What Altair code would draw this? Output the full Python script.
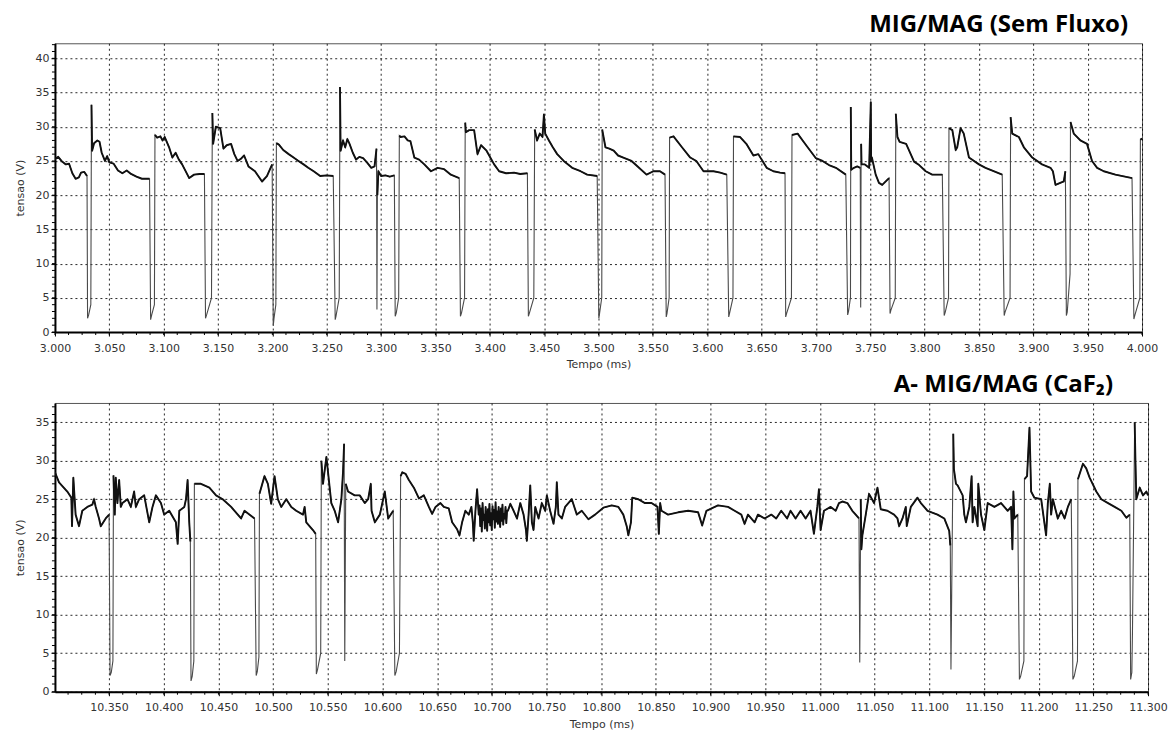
import altair as alt
import pandas as pd
import numpy as np

# ---------------- top panel: MIG/MAG (Sem Fluxo) ----------------
top_time = [
    3.000, 3.003, 3.006, 3.010, 3.013, 3.016, 3.019, 3.022, 3.024, 3.027, 3.0295,
    3.0300, 3.0310, 3.0330, 3.0336,
    3.0342, 3.036, 3.039, 3.041, 3.043, 3.046, 3.048, 3.050, 3.054, 3.058, 3.062, 3.066, 3.070, 3.075, 3.080, 3.087,
    3.0880, 3.0890, 3.0915, 3.0920,
    3.094, 3.097, 3.099, 3.101, 3.105, 3.108, 3.111, 3.114, 3.117, 3.1235, 3.128, 3.133, 3.1375,
    3.1385, 3.1395, 3.1440, 3.1448,
    3.1455, 3.148, 3.152, 3.155, 3.158, 3.162, 3.165, 3.168, 3.171, 3.174, 3.178, 3.184, 3.1905, 3.195, 3.1998,
    3.2008, 3.2015, 3.2032, 3.2037,
    3.206, 3.210, 3.215, 3.2195, 3.224, 3.2287, 3.233, 3.238, 3.244, 3.250, 3.256,
    3.2578, 3.2585, 3.2615, 3.2622,
    3.2628, 3.265, 3.267, 3.269, 3.271, 3.274, 3.277, 3.280, 3.2835, 3.287, 3.291, 3.294,
    3.2958, 3.2962, 3.2966, 3.2975, 3.300, 3.304, 3.308, 3.3122,
    3.3130, 3.3140, 3.3162, 3.3168,
    3.318, 3.3215, 3.3245, 3.327, 3.3306, 3.335, 3.3398, 3.3459, 3.352, 3.358, 3.3642, 3.3719,
    3.3730, 3.3740, 3.3768, 3.3774,
    3.378, 3.381, 3.3856, 3.3887, 3.392, 3.397, 3.404, 3.4086, 3.415, 3.4223, 3.428, 3.4346,
    3.4355, 3.4365, 3.4405, 3.4413,
    3.4435, 3.446, 3.4485, 3.4498, 3.451, 3.4544, 3.458, 3.462, 3.468, 3.4758, 3.4835, 3.4896, 3.4988,
    3.5003, 3.5008, 3.5030, 3.5034,
    3.5064, 3.510, 3.514, 3.518, 3.5228, 3.5304, 3.536, 3.5442, 3.5505, 3.5566, 3.5612,
    3.5623, 3.5630, 3.5650, 3.5654,
    3.569, 3.5768, 3.5844, 3.590, 3.5966, 3.6058, 3.612, 3.618,
    3.6198, 3.6205, 3.6237, 3.6242,
    3.6303, 3.636, 3.6425, 3.647, 3.6547, 3.6609, 3.6670, 3.6716,
    3.6722, 3.6730, 3.6775, 3.6780,
    3.6832, 3.6878, 3.6924, 3.700, 3.7061, 3.712, 3.7184, 3.7275,
    3.7292, 3.7300, 3.7318, 3.7321,
    3.7325, 3.735, 3.738, 3.7408, 3.7412, 3.7416, 3.742, 3.745, 3.749, 3.7505, 3.7508, 3.7515, 3.755, 3.758, 3.761, 3.7673,
    3.7682, 3.7690, 3.7730, 3.7735,
    3.775, 3.777, 3.783, 3.7903, 3.795, 3.801, 3.807, 3.8163,
    3.8180, 3.8190, 3.8220, 3.8224,
    3.8255, 3.8286, 3.8300, 3.8331, 3.836, 3.8408, 3.850, 3.856, 3.8635, 3.8714,
    3.8732, 3.8740, 3.8786, 3.8791,
    3.8806, 3.8867, 3.8913, 3.899, 3.908, 3.9158, 3.918, 3.9204, 3.928, 3.9295,
    3.9304, 3.9312, 3.9338, 3.9342,
    3.9372, 3.9433, 3.9494, 3.954, 3.9587, 3.9648, 3.9755, 3.9908,
    3.9925, 3.9935, 3.9980, 3.9985, 4.000,
]
top_volt = [
    25.3, 25.6, 25.0, 24.5, 24.6, 23.2, 22.4, 22.6, 23.3, 23.4, 22.8,
    2.0, 2.5, 4.0, 33.2,
    26.5, 27.6, 28.0, 27.8, 26.2, 25.0, 25.7, 24.8, 24.6, 23.6, 23.2, 23.6, 23.1, 22.7, 22.4, 22.4,
    1.8, 2.5, 4.0, 28.8,
    28.4, 28.6, 28.0, 28.5, 27.0, 25.5, 26.2, 25.2, 24.5, 22.5, 23.0, 23.1, 23.1,
    2.0, 2.5, 5.0, 32.0,
    27.5, 30.0, 29.8, 26.8, 27.3, 27.5, 26.0, 25.0, 25.3, 25.8, 24.2, 23.5, 22.0, 22.8, 24.5,
    0.9, 2.0, 4.0, 27.6,
    27.4, 26.6, 26.0, 25.5, 25.0, 24.5, 24.0, 23.5, 22.8, 22.9, 22.8,
    1.8, 2.3, 5.0, 35.8,
    26.5, 28.0, 27.0, 28.2, 27.5, 26.2, 25.2, 25.6, 25.4, 24.8, 24.0, 24.2,
    26.8, 3.3, 20.0, 23.5, 22.8, 22.9, 22.7, 22.9,
    2.3, 2.8, 5.0, 28.7,
    28.5, 28.6, 28.0, 27.9, 25.5, 25.2, 24.5, 23.5, 24.0, 23.8, 23.0, 22.5,
    2.3, 2.8, 5.0, 30.6,
    29.2, 29.5, 29.5, 26.0, 27.3, 26.5, 24.5, 23.5, 23.2, 23.3, 23.1, 23.2,
    2.3, 2.8, 5.0, 29.6,
    28.0, 29.0, 28.5, 31.8, 29.0, 28.0, 27.0, 26.0, 25.0, 24.0, 23.5, 23.0, 22.8,
    2.0, 2.5, 5.0, 29.6,
    27.0, 26.8, 26.5, 25.8, 25.5, 25.0, 24.2, 23.0, 23.5, 23.5, 23.0,
    2.2, 2.7, 5.0, 28.4,
    28.6, 27.0, 25.5, 25.0, 23.5, 23.5, 23.3, 23.0,
    2.2, 2.7, 5.0, 28.6,
    28.5, 27.5, 25.8, 26.0, 24.0, 23.5, 23.3, 23.2,
    2.2, 2.7, 5.0, 28.8,
    29.0, 28.0, 27.0, 25.4, 25.0, 24.4, 24.0, 23.0,
    2.5, 3.0, 5.0, 32.9,
    23.7, 24.0, 24.2, 24.0, 3.6, 27.5, 24.5, 24.5, 24.0, 33.6, 24.9, 25.5, 23.0, 21.8, 21.5, 22.5,
    2.7, 3.2, 5.0, 31.9,
    28.5, 27.8, 27.5, 24.9, 24.4, 23.5, 23.0, 23.0,
    2.4, 2.9, 5.0, 29.8,
    29.5, 26.6, 27.0, 29.8, 29.0, 25.5, 24.5, 24.0, 23.5, 23.0,
    2.4, 2.9, 5.0, 31.4,
    29.0, 28.5, 27.0, 25.5, 24.5, 24.0, 23.5, 21.5, 22.0, 23.5,
    2.4, 2.9, 8.5, 30.7,
    29.0, 28.0, 27.5, 25.0, 24.0, 23.5, 23.0, 22.5,
    1.9, 2.5, 5.0, 28.1, 28.3,
]

# ---------------- bottom panel: A- MIG/MAG (CaF2) ----------------
bot_time_a = [
    10.3005, 10.3042, 10.3118, 10.3155, 10.3161, 10.3173, 10.3194, 10.3225, 10.3255, 10.3301,
    10.3347, 10.3362, 10.3378, 10.3408, 10.3424, 10.3469, 10.3500,
    10.3509, 10.3520, 10.3535, 10.3540,
    10.3552, 10.3561, 10.3576, 10.3592, 10.3607, 10.3622, 10.3668, 10.3699, 10.3729, 10.3745,
    10.3775, 10.3821, 10.3867, 10.3897, 10.3928, 10.3974, 10.4004, 10.4050, 10.4111, 10.4127,
    10.4142, 10.4188, 10.4203, 10.4218, 10.4233, 10.4243,
    10.4249, 10.4260, 10.4275, 10.4280,
    10.4340, 10.4417, 10.4478, 10.4539, 10.4616, 10.4677, 10.4707, 10.4738, 10.4830,
    10.4845, 10.4855, 10.4870, 10.4875,
    10.4921, 10.4952, 10.4982, 10.5013, 10.5043, 10.5074, 10.5120, 10.5166, 10.5211, 10.5273,
    10.5288, 10.5303, 10.5364, 10.5389,
    10.5395, 10.5405, 10.5435, 10.5441,
    10.5456, 10.5487, 10.5502, 10.5517, 10.5532, 10.5563, 10.5594, 10.5624, 10.5639, 10.5649,
    10.5655, 10.5664, 10.5685, 10.5746, 10.5792, 10.5838, 10.5869, 10.5893, 10.5900, 10.5930,
    10.5976, 10.6021, 10.6052, 10.6098,
    10.6113, 10.6125, 10.6155, 10.6166,
    10.6181, 10.6211, 10.6241, 10.6287, 10.6333, 10.6378, 10.6424, 10.6454, 10.6485, 10.6530,
    10.6561, 10.6606, 10.6637, 10.6682, 10.6704, 10.6728, 10.6758, 10.6789, 10.6813, 10.6826,
    10.6834, 10.6850, 10.6865,
]
bot_volt_a = [
    28.5, 27.2, 26.0, 25.2, 21.5, 27.8, 23.0, 21.5, 23.5, 24.0,
    24.3, 25.0, 24.0, 22.5, 21.5, 22.5, 23.0,
    2.1, 2.5, 4.0, 28.1,
    23.0, 27.8, 24.5, 27.5, 24.0, 24.5, 25.0, 24.0, 26.0, 24.0,
    25.0, 25.5, 22.0, 24.0, 25.5, 24.5, 23.0, 23.5, 22.0, 19.2,
    23.5, 24.0, 25.0, 27.5, 22.0, 19.5,
    1.4, 2.0, 4.0, 27.0,
    27.0, 26.5, 25.5, 25.0, 24.0, 23.0, 22.5, 23.5, 22.5,
    2.1, 2.6, 4.5, 25.7,
    28.0, 27.0, 24.4, 28.0, 25.0, 24.0, 25.0, 24.0, 23.5, 23.0,
    24.0, 22.0, 21.0, 20.5,
    2.3, 2.8, 5.0, 30.0,
    27.0, 30.5, 28.5, 26.5, 24.5, 23.5, 22.0, 25.0, 28.5, 32.2,
    4.0, 27.0, 26.0, 25.5, 25.5, 24.5, 25.0, 27.0, 23.5, 22.0,
    23.0, 26.0, 22.5, 23.5,
    2.1, 2.6, 5.0, 28.0,
    28.5, 28.3, 27.5, 26.5, 25.1, 25.5, 24.0, 23.1, 24.0, 24.5,
    24.0, 23.8, 22.0, 21.1, 20.3, 22.0, 23.5, 23.0, 24.0, 22.0,
    19.6, 23.5, 26.3,
]
# dense noisy stretch around 10.69-10.71 ms
noise_time = [
    10.6880, 10.6887, 10.6894, 10.6901, 10.6908, 10.6915, 10.6922, 10.6929, 10.6936, 10.6943,
    10.6950, 10.6957, 10.6964, 10.6971, 10.6978, 10.6985, 10.6992, 10.6999, 10.7006, 10.7013,
    10.7020, 10.7027, 10.7034, 10.7041, 10.7048, 10.7055, 10.7062, 10.7069, 10.7076, 10.7083,
    10.7090, 10.7097, 10.7104, 10.7111, 10.7118, 10.7125, 10.7132, 10.7139,
]
noise_volt = [
    23.0, 24.2, 21.5, 23.8, 20.8, 24.5, 22.3, 23.0, 21.2, 24.0,
    22.5, 20.9, 23.7, 22.0, 24.4, 21.6, 23.2, 21.0, 24.1, 22.4,
    23.6, 21.3, 24.6, 22.1, 23.4, 21.8, 24.0, 22.6, 21.4, 23.8,
    22.2, 24.3, 21.7, 23.1, 22.5, 24.0, 21.9, 23.5,
]
bot_time_b = [
    10.7147, 10.7169, 10.7199, 10.7230, 10.7260, 10.7290, 10.7312, 10.7320, 10.7336, 10.7351,
    10.7366, 10.7381, 10.7397, 10.7427, 10.7457, 10.7488, 10.7503, 10.7533, 10.7564, 10.7585,
    10.7594, 10.7609, 10.7640, 10.7670, 10.7731, 10.7777, 10.7822, 10.7883, 10.7944, 10.8020,
    10.8096, 10.8157, 10.8202, 10.8233, 10.8248, 10.8272, 10.8284, 10.8339, 10.8400, 10.8460,
    10.8515, 10.8527, 10.8539, 10.8551, 10.8611, 10.8704, 10.8795, 10.8886, 10.8923, 10.8962,
    10.9068, 10.9160, 10.9220, 10.9281, 10.9311, 10.9342, 10.9403, 10.9433, 10.9494, 10.9555,
    10.9600, 10.9646, 10.9700, 10.9731, 10.9777, 10.9823, 10.9869, 10.9914, 10.9945, 10.9976,
    10.9991, 11.0006, 11.0037, 11.0098, 11.0144, 11.0174, 11.0205, 11.0251, 11.0296, 11.0327,
    11.0357, 11.0364, 11.0373, 11.0379, 11.0388, 11.0419, 11.0449, 11.0495, 11.0526, 11.0556,
    11.0617, 11.0678, 11.0709, 11.0724, 11.0755, 11.0785, 11.0794, 11.0831, 11.0892, 11.0923,
    11.0984, 11.1075, 11.1137, 11.1182, 11.1192, 11.1198, 11.1219, 11.1225, 11.1244, 11.1259,
    11.1305, 11.1320, 11.1335, 11.1366, 11.1387, 11.1396, 11.1412, 11.1442, 11.1448, 11.1473,
    11.1503, 11.1534, 11.1595, 11.1656, 11.1717, 11.1748, 11.1760, 11.1769, 11.1778, 11.1809,
    11.1824, 11.1835, 11.1865, 11.1870,
    11.1894, 11.1916, 11.1931, 11.1961, 11.2023, 11.2068, 11.2084, 11.2102, 11.2114, 11.2130,
    11.2175, 11.2206, 11.2237, 11.2267, 11.2298,
    11.2313, 11.2325, 11.2355, 11.2359,
    11.2405, 11.2435, 11.2466, 11.2527, 11.2573, 11.2634, 11.2695, 11.2756, 11.2802, 11.2833,
    11.2841, 11.2852, 11.2858, 11.2878,
    11.2884, 11.2893, 11.2924, 11.2954, 11.2985, 11.3000,
]
bot_volt_b = [
    23.5, 24.4, 23.5, 22.5, 24.5, 23.0, 21.0, 19.6, 23.0, 26.8,
    22.0, 21.0, 24.0, 22.5, 24.5, 23.5, 25.5, 23.5, 21.8, 24.0,
    27.2, 23.0, 22.5, 24.0, 25.0, 23.0, 23.5, 22.4, 23.0, 23.9,
    24.2, 24.0, 23.0, 21.5, 20.3, 22.0, 25.2, 25.0, 24.5, 24.5,
    24.0, 20.5, 24.5, 23.5, 23.0, 23.3, 23.5, 23.3, 21.6, 23.5,
    24.2, 24.0, 23.5, 23.0, 21.8, 23.0, 22.0, 23.0, 22.5, 23.0,
    22.5, 23.5, 22.5, 23.5, 22.5, 23.5, 22.5, 23.5, 20.5, 24.0,
    26.3, 21.0, 23.5, 24.0, 23.5, 24.5, 24.7, 24.5, 23.5, 23.0,
    22.5, 3.8, 25.0, 18.5, 20.3, 23.0, 25.7, 24.5, 26.5, 23.7,
    23.5, 23.0, 22.5, 21.5, 22.5, 24.0, 21.5, 24.0, 25.2, 24.5,
    23.5, 23.0, 22.5, 20.9, 19.0, 2.9, 33.5, 28.9, 27.0, 26.8,
    25.5, 23.0, 22.0, 24.0, 28.0, 22.0, 24.0, 21.5, 27.0, 23.0,
    21.0, 24.5, 24.0, 24.5, 23.5, 24.0, 18.5, 26.0, 22.5, 23.0,
    1.6, 2.0, 4.0, 27.6,
    28.0, 34.3, 26.0, 25.2, 25.0, 20.3, 24.5, 27.0, 23.0, 25.0,
    22.5, 23.5, 22.5, 24.0, 25.0,
    1.6, 2.0, 4.0, 27.6,
    29.6, 29.0, 27.8, 26.0, 25.0, 24.5, 24.0, 23.5, 22.6, 23.0,
    1.6, 2.5, 8.0, 35.0,
    30.6, 25.0, 26.5, 25.5, 26.0, 25.5,
]
bot_time = bot_time_a + noise_time + bot_time_b
bot_volt = bot_volt_a + noise_volt + bot_volt_b

# axis ticks
top_x_ticks = [round(3.0 + 0.05 * k, 3) for k in range(21)]
bot_x_ticks = [round(10.35 + 0.05 * k, 3) for k in range(20)]
top_y_ticks = [0, 5, 10, 15, 20, 25, 30, 35, 40]
bot_y_ticks = [0, 5, 10, 15, 20, 25, 30, 35]
top_x_minor = [round(3.0 + 0.0125 * k, 4) for k in range(81)]
bot_x_minor = [round(10.3125 + 0.0125 * k, 4) for k in range(80)]
top_y_minor = list(range(0, 43))
bot_y_minor = list(range(0, 38))

H = 289


def panel(times, volts, xdom, xticks, xminor, ydom, yticks, yminor, title, dx, width):
    df = pd.DataFrame({"t": times, "v": volts, "i": range(len(times))})
    low = (df["v"] < 15).astype(int)
    df["seg"] = low.cumsum()
    hi = df[df["v"] >= 15]
    x = alt.X("t:Q", scale=alt.Scale(domain=xdom, nice=False, zero=False),
              axis=alt.Axis(values=xticks, format=".3f", title="Tempo (ms)",
                            labelFlush=False, labelOverlap=False,
                            labelPadding=6, titlePadding=6))
    y = alt.Y("v:Q", scale=alt.Scale(domain=ydom, nice=False, zero=False),
              axis=alt.Axis(values=yticks, title="tensao (V)",
                            labelFlush=False, labelOverlap=False,
                            labelPadding=2, titlePadding=9))
    thin = alt.Chart(df).mark_line(color="#4a4a4a", strokeWidth=1.1, clip=True).encode(
        x=x, y=y, order="i:Q")
    thick = alt.Chart(hi).mark_line(color="#111111", strokeWidth=1.9, clip=True,
                                    strokeJoin="round").encode(
        x=x, y=y, order="i:Q", detail="seg:N")
    mx = alt.Chart(pd.DataFrame({"t": xminor})).mark_rule(color="black", strokeWidth=1).encode(
        x=x, y=alt.value(H), y2=alt.value(H + 3))
    my = alt.Chart(pd.DataFrame({"v": yminor})).mark_rule(color="black", strokeWidth=1).encode(
        y=y, x=alt.value(-3), x2=alt.value(0))
    return alt.layer(thin, thick, mx, my).properties(
        width=width, height=H,
        title=alt.TitleParams(title, anchor="end", frame="group", dx=dx, offset=6,
                              font="Open Sans", fontSize=24, fontWeight="bold", color="black"))


top = panel(top_time, top_volt, [3.0, 4.0], top_x_ticks, top_x_minor, [0, 42.2],
            top_y_ticks, top_y_minor, "MIG/MAG (Sem Fluxo)", -14, 1088)
bot = panel(bot_time, bot_volt, [10.3005, 11.3], bot_x_ticks, bot_x_minor, [0, 37.5],
            bot_y_ticks, bot_y_minor, "A- MIG/MAG (CaF\u2082)", -35, 1094)

chart = alt.vconcat(top, bot, spacing=1).properties(
    padding={"left": 14, "top": 12, "right": 5, "bottom": 0},
    background="white",
).configure_view(stroke="#555555", strokeWidth=1).configure_axis(
    domainColor="black", domainWidth=2, tickColor="black", tickSize=4, tickWidth=1,
    labelFont="DejaVu Sans", labelFontSize=11, labelColor="#333333",
    titleFont="DejaVu Sans", titleFontSize=11, titleFontWeight="normal", titleColor="#333333",
    grid=True, gridColor="black", gridDash=[2, 3], gridOpacity=0.85, gridWidth=1,
)

chart.save("out.html", embed_options={"renderer": "svg", "actions": False})
